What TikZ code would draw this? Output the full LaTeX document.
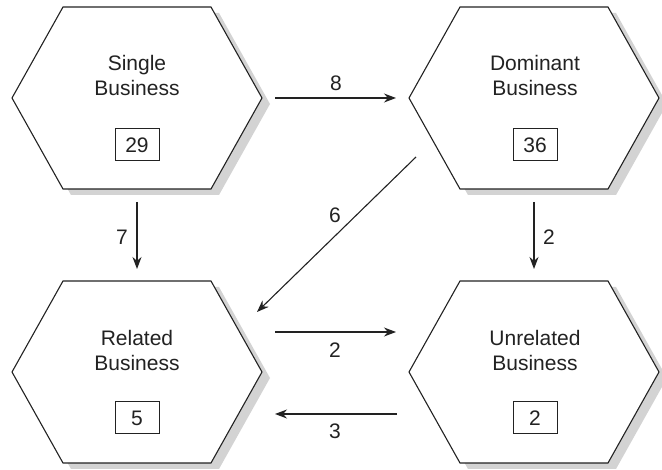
\documentclass[tikz,border=0pt]{standalone}
\usepackage{fontspec}
\setmainfont{Liberation Sans}
\usetikzlibrary{arrows.meta,calc}
\definecolor{ink}{HTML}{222222}
\definecolor{shade}{HTML}{D3D3D3}
\begin{document}
\begin{tikzpicture}[x=1pt,y=-1pt,
  txt/.style={font=\fontsize{21}{25}\selectfont,text=ink,inner sep=0pt,align=center},
  countbox/.style={draw=ink,line width=1pt,minimum width=44pt,minimum height=32pt,inner sep=0pt,font=\fontsize{21}{25}\selectfont,text=ink},
  hexline/.style={draw=ink,line width=1.1pt,fill=white,line join=miter},
  hexshadow/.style={fill=shade},
  flow/.style={draw=ink,line width=1.1pt,-{Stealth[length=12pt,width=9pt]}},
  flowlabel/.style={font=\fontsize{21}{25}\selectfont,text=ink,inner sep=0pt}]
\useasboundingbox (0,0) rectangle (662,470);

% hexagon outlines with drop shadow
\foreach \cx/\cy in {137/98, 534/98, 137/372, 534/372}{
  \fill[hexshadow,shift={(\cx+8,\cy+6)}]
    (-125,0) -- (-74,-91) -- (74,-91) -- (125,0) -- (74,91) -- (-74,91) -- cycle;
  \path[hexline,shift={(\cx,\cy)}]
    (-125,0) -- (-74,-91) -- (74,-91) -- (125,0) -- (74,91) -- (-74,91) -- cycle;
}

% names and counts
\node[txt] (single)    at (137,75)  {Single\\Business};
\node[countbox] (nsingle)    at (137,145) {29};
\node[txt] (dominant)  at (535,75)  {Dominant\\Business};
\node[countbox] (ndominant)  at (535,145) {36};
\node[txt] (related)   at (137,350) {Related\\Business};
\node[countbox] (nrelated)   at (137,418) {5};
\node[txt] (unrelated) at (535,350) {Unrelated\\Business};
\node[countbox] (nunrelated) at (535,418) {2};

% connector end points
\coordinate (s8) at (275,98);   \coordinate (e8) at (396,98);
\coordinate (s7) at (137,202);  \coordinate (e7) at (137,269);
\coordinate (sd) at (534,202);  \coordinate (ed) at (534,269);
\coordinate (s6) at (416,157);  \coordinate (e6) at (257,312);
\coordinate (sr) at (275,332);  \coordinate (er) at (396,332);
\coordinate (su) at (397,414);  \coordinate (eu) at (275,414);

% flows between strategies
\draw[flow] (s8) -- (e8);
\draw[flow] (s7) -- (e7);
\draw[flow] (sd) -- (ed);
\draw[flow] (s6) -- (e6);
\draw[flow] (sr) -- (er);
\draw[flow] (su) -- (eu);

\node[flowlabel] (l8) at (336,83)  {8};
\node[flowlabel] (l7) at (122,237) {7};
\node[flowlabel] (ld) at (549,237) {2};
\node[flowlabel] (l6) at (335,215) {6};
\node[flowlabel] (lr) at (335,350) {2};
\node[flowlabel] (lu) at (335,431) {3};
\end{tikzpicture}
\end{document}
